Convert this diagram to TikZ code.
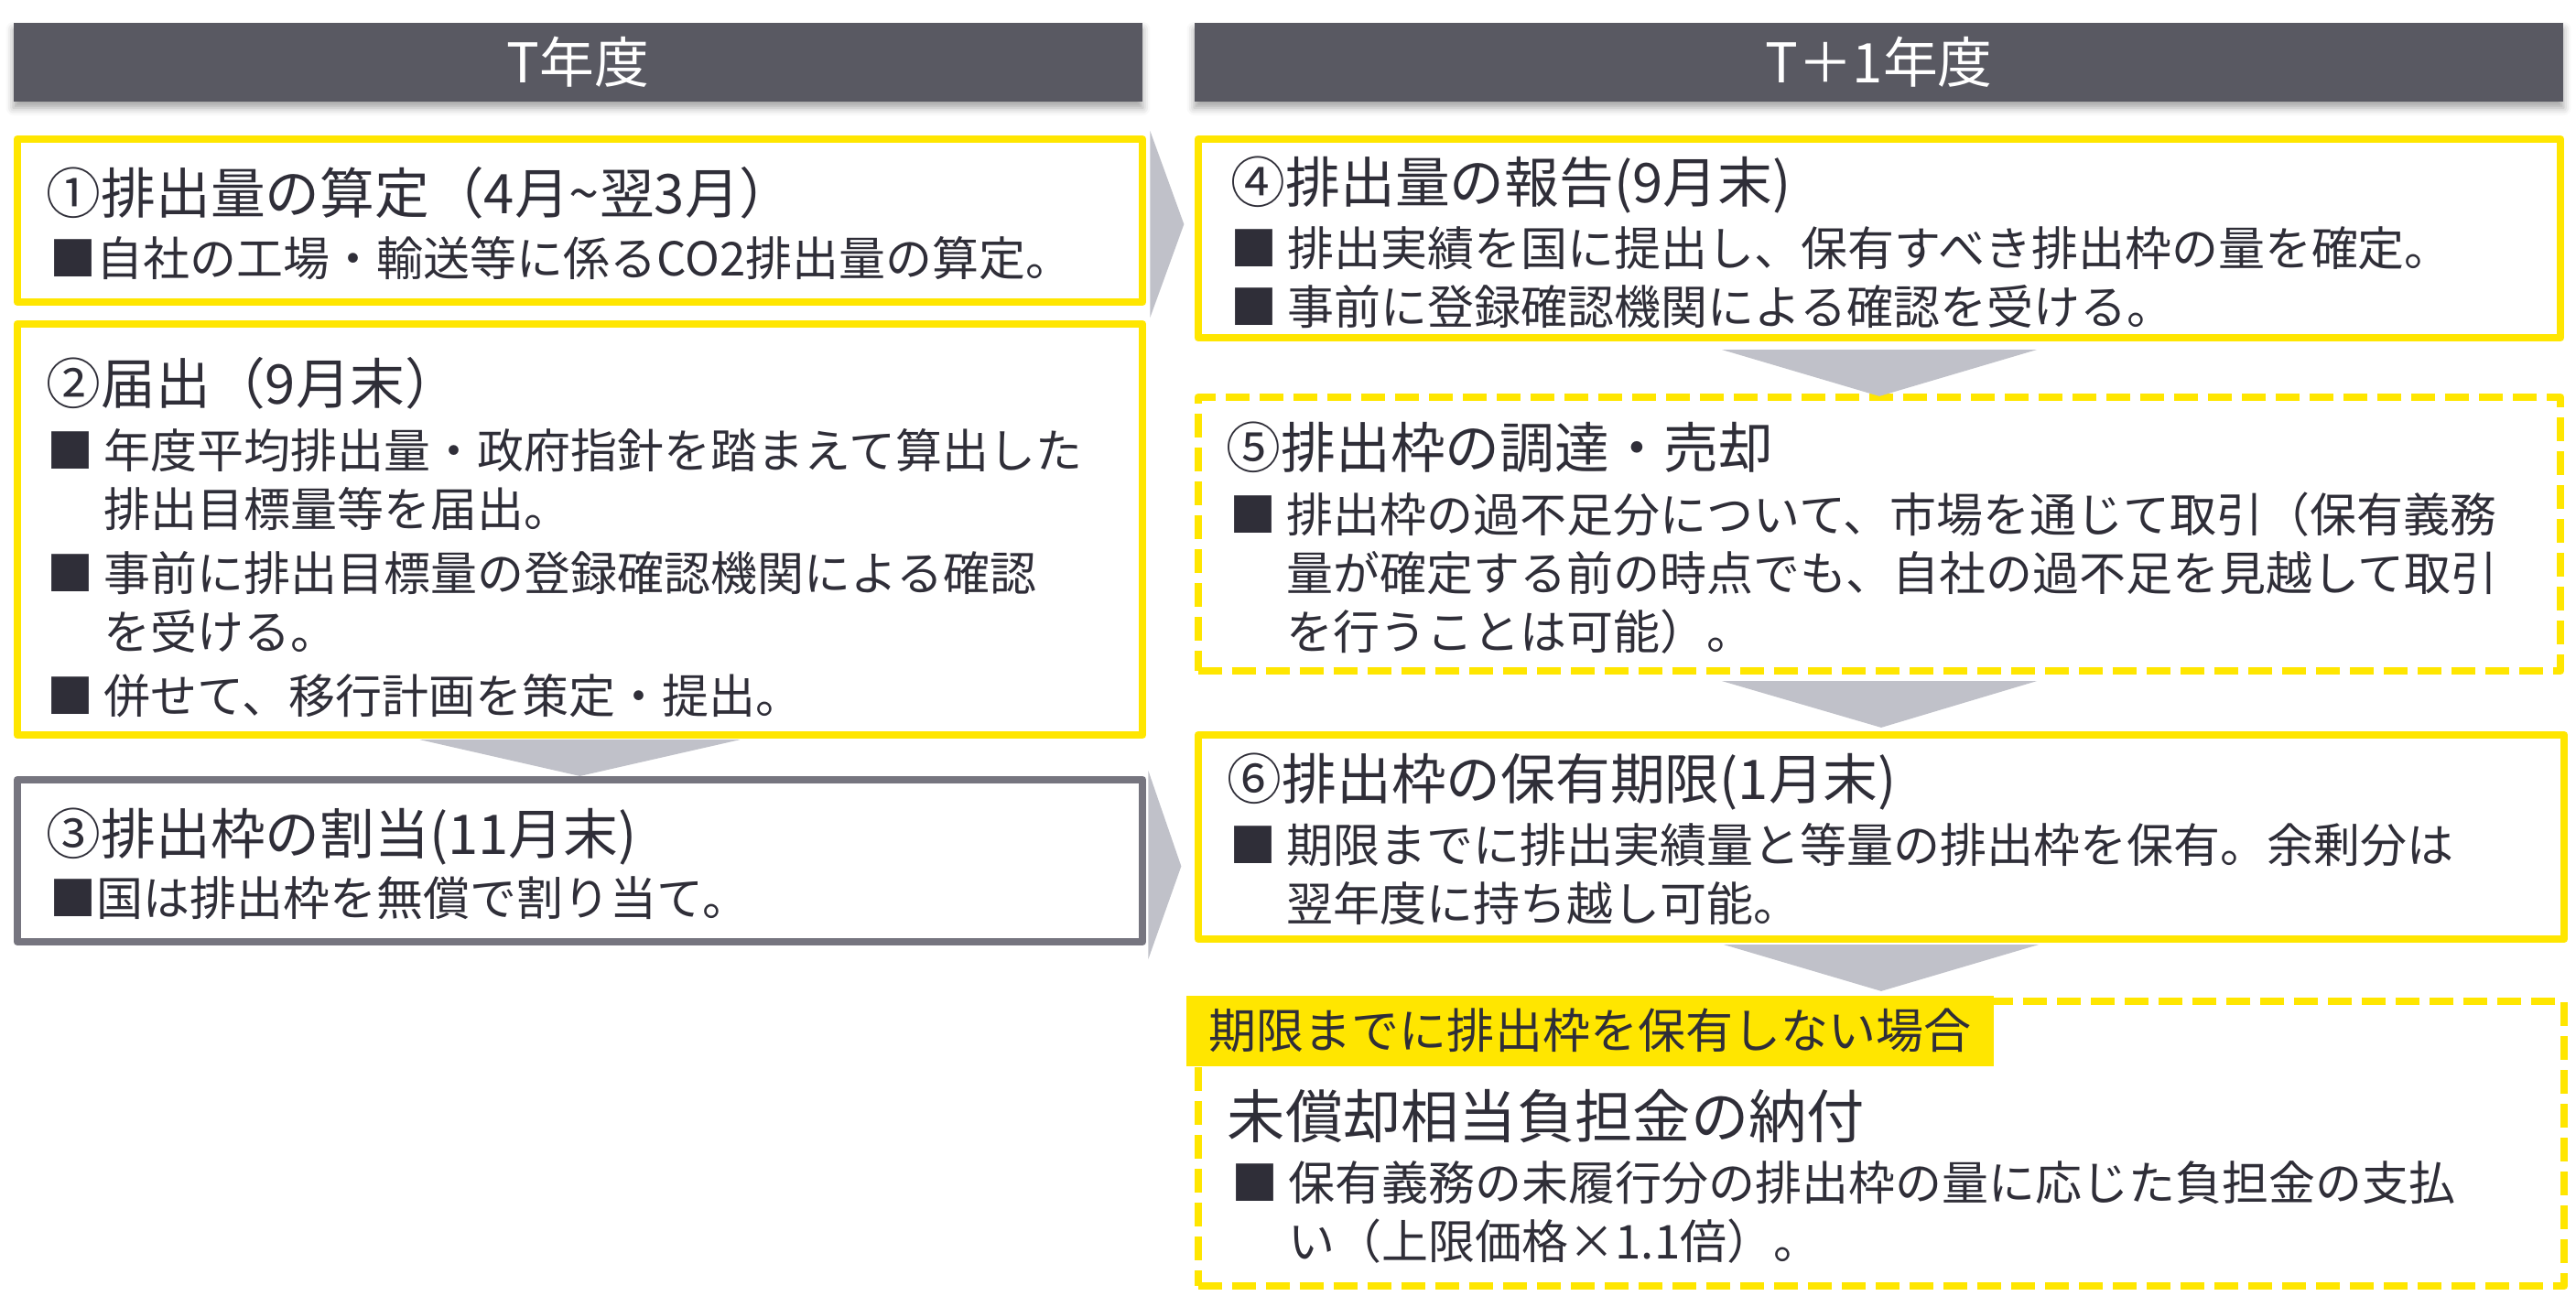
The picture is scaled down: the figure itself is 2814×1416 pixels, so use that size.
\documentclass[tikz,border=0pt]{standalone}
\usepackage{fontspec}
\setmainfont{Noto Sans CJK JP}
\usetikzlibrary{calc,shadows.blur}
\definecolor{headgray}{RGB}{89,89,98}
\definecolor{markyellow}{RGB}{255,230,0}
\definecolor{framegray}{RGB}{118,117,127}
\definecolor{arrowgray}{RGB}{192,193,201}
\definecolor{inkdark}{RGB}{47,46,56}
\newcommand{\bul}{\makebox[0.62cm][l]{■}}
\newcommand{\ind}{\hspace*{0.62cm}}

\begin{document}
\begin{tikzpicture}[x=0.01cm, y=-0.01cm,
    every node/.style={text=inkdark},
    head/.style={fill=headgray, text=white, minimum height=0.86cm, inner sep=0, font=\fontsize{17pt}{20pt}\selectfont,
        blur shadow={shadow xshift=0pt, shadow yshift=-0.07cm, shadow blur radius=0.08cm, shadow opacity=35}},
    solidbox/.style={draw=markyellow, line width=0.08cm, line join=round, inner sep=0},
    dashbox/.style={solidbox, dash pattern=on 0.26cm off 0.11cm},
    graybox/.style={solidbox, draw=framegray},
    title/.style={anchor=north west, inner sep=0, font=\fontsize{17pt}{20pt}\selectfont},
    body/.style={anchor=north west, inner sep=0, align=left, font=\fontsize{14.5pt}{18.2pt}\selectfont},
    wedge/.style={fill=arrowgray}]

    \useasboundingbox (0,0) rectangle (2814,1416);

    % year headers
    \node[head, minimum width=12.33cm] (h1) at (631.5,68) {T年度};
    \node[head, minimum width=14.95cm] (h2) at (2052.5,68) {T＋1年度};

    % frames
    \node[solidbox, minimum width=12.29cm, minimum height=1.78cm] (b1) at (633.5,241) {};
    \node[solidbox, minimum width=12.29cm, minimum height=4.49cm] (b2) at (633.5,578.5) {};
    \node[graybox, minimum width=12.29cm, minimum height=1.77cm] (b3) at (633.5,940.5) {};
    \node[solidbox, minimum width=14.88cm, minimum height=2.17cm] (b4) at (2053,260.5) {};
    \node[dashbox, minimum width=14.88cm, minimum height=2.99cm] (b5) at (2053,583.5) {};
    \node[solidbox, minimum width=14.92cm, minimum height=2.23cm] (b6) at (2055,914.5) {};
    \node[dashbox, minimum width=14.92cm, minimum height=3.11cm] (b7) at (2055,1249.5) {};

    % arrows
    \fill[wedge] ($(b2.south)+(-175,1)$) -- ($(b2.south)+(175,1)$) -- (b3.north) -- cycle;
    \fill[wedge] ($(b4.south)+(-172,9)$) -- ($(b4.south)+(172,9)$) -- ($(b5.north)+(0,3)$) -- cycle;
    \fill[wedge] ($(b5.south)+(-172,7)$) -- ($(b5.south)+(172,7)$) -- ($(b6.north)+(0,-4)$) -- cycle;
    \fill[wedge] ($(b6.south)+(-172,2)$) -- ($(b6.south)+(172,2)$) -- ($(b7.north)+(0,-7)$) -- cycle;
    \fill[wedge] ($(b1.north east)+(4,-5)$) -- ($(b1.east)+(41,4)$) -- ($(b1.south east)+(4,13)$) -- cycle;
    \fill[wedge] ($(b3.north east)+(2,-6)$) -- ($(b3.east)+(38,6)$) -- ($(b3.south east)+(2,15)$) -- cycle;

    % texts
    \node[title] (t1) at (50,182) {①排出量の算定（4月\textasciitilde 翌3月）};
    \node[body] (d1) at (54,258) {■自社の工場・輸送等に係るCO2排出量の算定。};
    \node[title] (t2) at (50,390) {②届出（9月末）};
    \node[body] (d2) at (51,468) {\bul 年度平均排出量・政府指針を踏まえて算出した\\\ind 排出目標量等を届出。\\[0.06cm]\bul 事前に排出目標量の登録確認機関による確認\\\ind を受ける。\\[0.06cm]\bul 併せて、移行計画を策定・提出。};
    \node[title] (t3) at (50,882) {③排出枠の割当(11月末)};
    \node[body] (d3) at (54,957) {■国は排出枠を無償で割り当て。};
    \node[title] (t4) at (1344,170) {④排出量の報告(9月末)};
    \node[body] (d4) at (1344,247) {\bul 排出実績を国に提出し、保有すべき排出枠の量を確定。\\\bul 事前に登録確認機関による確認を受ける。};
    \node[title] (t5) at (1339,460) {⑤排出枠の調達・売却};
    \node[body] (d5) at (1343,537) {\bul 排出枠の過不足分について、市場を通じて取引（保有義務\\\ind 量が確定する前の時点でも、自社の過不足を見越して取引\\\ind を行うことは可能）。};
    \node[title] (t6) at (1340,822) {⑥排出枠の保有期限(1月末)};
    \node[body] (d6) at (1343,899) {\bul 期限までに排出実績量と等量の排出枠を保有。余剰分は\\\ind 翌年度に持ち越し可能。};
    \node[fill=markyellow, anchor=north west, inner xsep=0.25cm, inner ysep=0, minimum height=0.77cm, font=\fontsize{14.8pt}{18pt}\selectfont] (lab) at (1295,1087) {期限までに排出枠を保有しない場合};
    \node[title, font=\fontsize{18pt}{21pt}\selectfont] (t7) at (1340,1190) {未償却相当負担金の納付};
    \node[body] (d7) at (1345,1268) {\bul 保有義務の未履行分の排出枠の量に応じた負担金の支払\\\ind い（上限価格×1.1倍）。};
\end{tikzpicture}
\end{document}
